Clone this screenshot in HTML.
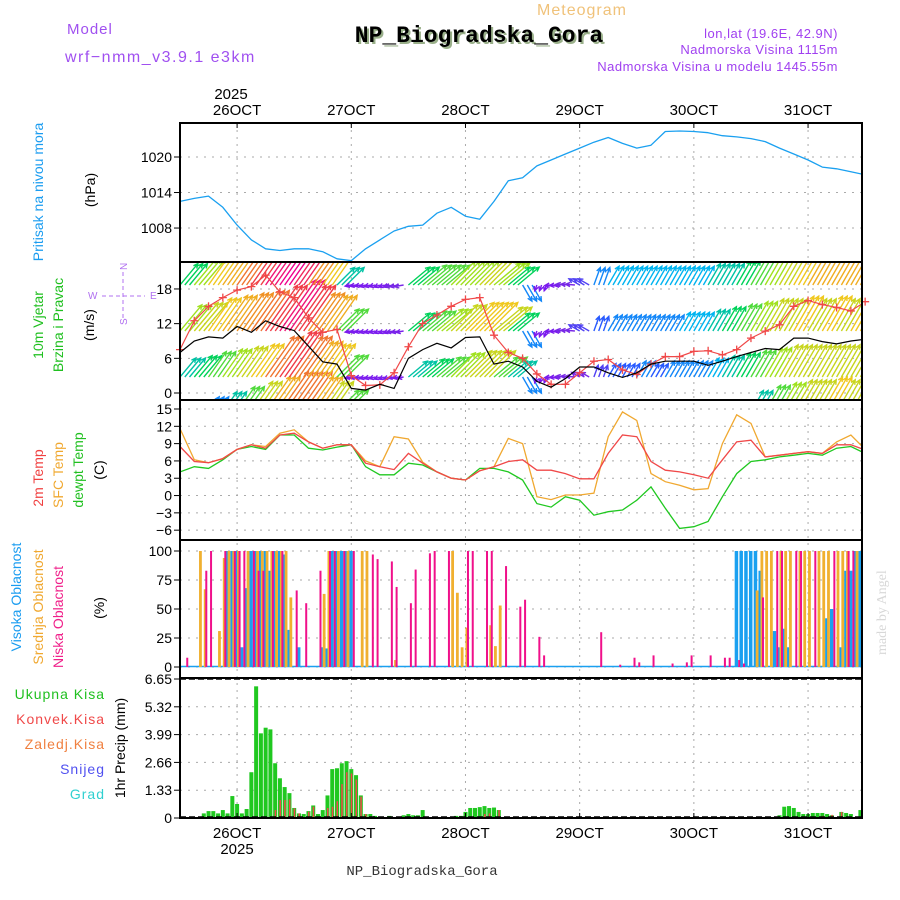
<!DOCTYPE html>
<html><head><meta charset="utf-8"><style>
html,body{margin:0;padding:0;background:#fff;}
svg{display:block;font-family:"Liberation Sans",sans-serif;}
</style></head><body>
<svg id="chart" width="900" height="900" viewBox="0 0 900 900" xmlns="http://www.w3.org/2000/svg">
<defs>
<clipPath id="cpP"><rect x="180" y="123" width="682" height="139"/></clipPath>
<clipPath id="cpW"><rect x="181" y="263" width="680" height="136"/></clipPath>
<clipPath id="cpT"><rect x="180" y="401" width="682" height="138"/></clipPath>
</defs>
<text x="582" y="15" font-size="16" fill="#f0c27a" text-anchor="middle" letter-spacing="1">Meteogram</text>
<text x="67" y="34" font-size="15" fill="#a050f0" letter-spacing="1">Model</text>
<text x="65" y="62" font-size="16" fill="#a050f0" letter-spacing="1.5">wrf−nmm_v3.9.1 e3km</text>
<text x="481" y="44" font-size="23" font-weight="bold" font-family="Liberation Mono, monospace" fill="#9ab08a" text-anchor="middle">NP_Biogradska_Gora</text>
<text x="479" y="42" font-size="23" font-weight="bold" font-family="Liberation Mono, monospace" fill="#000" text-anchor="middle">NP_Biogradska_Gora</text>
<text x="838" y="38" font-size="13" fill="#a040f0" text-anchor="end" letter-spacing="0.5">lon,lat (19.6E, 42.9N)</text>
<text x="838" y="54" font-size="13" fill="#a040f0" text-anchor="end" letter-spacing="0.5">Nadmorska Visina 1115m</text>
<text x="838" y="71" font-size="13" fill="#a040f0" text-anchor="end" letter-spacing="0.5">Nadmorska Visina u modelu 1445.55m</text>
<text x="231" y="99" font-size="15" text-anchor="middle">2025</text>
<text x="237" y="854" font-size="15" text-anchor="middle">2025</text>
<text x="422" y="875" font-size="14" font-family="Liberation Mono, monospace" fill="#333" text-anchor="middle">NP_Biogradska_Gora</text>
<text transform="translate(886,655) rotate(-90)" font-size="14" fill="#d8d8d8" font-family="Liberation Serif, serif">made by Angel</text>

<text transform="translate(43,192) rotate(-90)" font-size="14" fill="#1a9cf0" text-anchor="middle">Pritisak na nivou mora</text>
<text transform="translate(95,190) rotate(-90)" font-size="14" text-anchor="middle">(hPa)</text>
<text transform="translate(43,325) rotate(-90)" font-size="14" fill="#20c020" text-anchor="middle">10m Vjetar</text>
<text transform="translate(63,325) rotate(-90)" font-size="14" fill="#20c020" text-anchor="middle">Brzina i Pravac</text>
<text transform="translate(94,325) rotate(-90)" font-size="14" text-anchor="middle">(m/s)</text>
<g stroke="#b070f0" fill="#b070f0" font-size="10">
<line x1="102" y1="296" x2="145" y2="296" stroke-dasharray="4,3"/>
<line x1="123" y1="272" x2="123" y2="320" stroke-dasharray="4,3"/>
<text x="88" y="299" stroke="none">W</text><text x="150" y="299" stroke="none">E</text>
<text transform="translate(127,270) rotate(-90)" stroke="none">N</text>
<text transform="translate(127,325) rotate(-90)" stroke="none">S</text>
</g>
<text transform="translate(43,478) rotate(-90)" font-size="14" fill="#f04040" text-anchor="middle">2m Temp</text>
<text transform="translate(63,475) rotate(-90)" font-size="14" fill="#f0a830" text-anchor="middle">SFC Temp</text>
<text transform="translate(83,470) rotate(-90)" font-size="14" fill="#20c020" text-anchor="middle">dewpt Temp</text>
<text transform="translate(104,470) rotate(-90)" font-size="14" text-anchor="middle">(C)</text>
<text transform="translate(21,597) rotate(-90)" font-size="14" fill="#1a9cf0" text-anchor="middle">Visoka Oblacnost</text>
<text transform="translate(43,607) rotate(-90)" font-size="14" fill="#f0a830" text-anchor="middle">Srednja Oblacnost</text>
<text transform="translate(63,617) rotate(-90)" font-size="14" fill="#f0208a" text-anchor="middle">Niska Oblacnost</text>
<text transform="translate(104,608) rotate(-90)" font-size="14" text-anchor="middle">(%)</text>
<g font-size="14" text-anchor="end" letter-spacing="1">
<text x="105" y="699" fill="#20c020">Ukupna  Kisa</text>
<text x="105" y="724" fill="#f04848">Konvek.Kisa</text>
<text x="105" y="749" fill="#f08040">Zaledj.Kisa</text>
<text x="105" y="774" fill="#5050f0">Snijeg</text>
<text x="105" y="799" fill="#30d0d0">Grad</text>
</g>
<text transform="translate(125,748) rotate(-90)" font-size="14" text-anchor="middle">1hr Precip (mm)</text>
<g id="grid"></g><g id="marks"></g><g id="frame"></g>
</svg>
<script>
const presVals=[1012.5,1013,1013.4,1011.5,1008.5,1006,1004.5,1004.2,1004.5,1004.5,1004,1002.8,1002.5,1004.5,1006,1007.5,1008.3,1008.5,1010.5,1011.5,1010,1009.5,1012.5,1016,1016.5,1018.5,1019.5,1020.5,1021.5,1022.5,1023.3,1022.3,1021.5,1022,1024.3,1024.4,1024.3,1024.1,1023.6,1023.4,1023.1,1022.6,1021.5,1020.5,1019.5,1018.3,1018,1017.5,1017];
const wind10=[7,9,9.7,9.5,11.5,10.5,12.5,11.5,10.8,8.1,5.4,5,0.8,0.5,1.5,0.8,6,7.5,8.6,7.8,9.6,9.7,5,5.5,4.5,2,1,2.5,4.5,4.5,3.5,2.7,3.5,5,5.5,5.5,5.5,4.8,5.5,6.3,7,7.7,7.5,9.5,9.5,8.9,8.5,9,9.3];
const windUpper=[7.5,12.5,15,16.5,17.8,18.4,20.4,17.5,16.5,13,10.5,11,3,1.3,1.4,3.5,8,12,13.5,15,16.2,16.5,10,7,6,3.3,1.5,1.5,3.5,5.5,5.8,4,3.2,5,6.3,6.3,7.2,7.3,6.6,7.5,9.5,10.7,11.8,15,16,15.3,14.8,14.2,15.8];
const rowA=[0,4,6,8,10,12,14,16,16,14,12,10,0,0,0,0,0,0,0,0,0,0,0,0,0,0,0,0,0,0,0,0,0,0,0,0,0,0,0,0,8,10,11,12,12,13,12,12,12];
const rowB=[8,9,10,11,12,13,16,18,16,14,13,10,2,2,2,2,8,9,10,11,12,12,10,8,6,2,2,3,3,4,5,5,6,5,6,6,6,7,8,9,10,11,12,12,12,12,12,12,12];
const rowC=[11,12,13,14,15,16,18,20,18,15,14,10,2,2,2,2.5,9,10,11,12,13,13,12,9,6,2,2,3,4,5,6,6,6,6,6,7,7,8,9,10,11,12,12,13,12,13,12,13,13];
const rowD=[9,11,13,14,16,18,20,21,19,15,13,8,2,2,2,3,9,10,10,11,11,12,11,9,6,2,2,3,4,6,7,7,7,7,7,7,7,8,8,9,10,11,12,13,14,14,14,14,14];
const windDir=[50,50,55,55,55,55,55,55,55,55,55,45,190,195,200,190,40,40,40,45,45,45,40,40,300,250,185,175,150,70,60,60,60,60,60,60,60,60,60,60,60,60,60,60,60,60,60,60,60];
const temp2m=[8.5,5.9,5.7,6.4,8,8.8,8.2,10.5,10.8,9.3,8.2,8.8,8.8,5.6,5,4.5,7.3,5.6,4.1,3,2.7,4.3,5,5.9,6.2,4.4,4.4,3.8,2.9,2.9,7.3,10.5,10.2,5.9,4.4,4.1,3.6,3,6.2,9.3,9.6,6.7,7,7.3,7.6,7.3,8.8,8.8,7.9];
const tempSfc=[11.6,6.2,5.7,6.4,8,8.8,8.5,10.8,11.4,9.3,8.2,8.8,8.8,6,5,10.2,9.8,5.8,4.1,3,2.7,4.3,5,9.9,9,-0.2,-0.7,0.1,0.1,0.4,10.2,14.5,13,3.8,2.4,1.8,1,1.2,9,14,12.5,6.7,7,7.3,7.6,7.3,9.3,10.5,8];
const tempDew=[4.1,5,4.7,6.2,8,8.5,8,10.5,10.5,8.2,7.9,8.4,8.8,5,3.6,3.6,5.6,5.3,4.1,3,2.7,4.7,4.7,4.1,2.7,-1.4,-2,-0.2,-0.8,-3.4,-2.8,-2.5,-0.8,1.5,-2.2,-5.7,-5.4,-4.5,-0.2,3.8,5.9,6.2,6.7,7,7.3,7,8.2,8.5,7.3];
const highH=[10,11,12,13,14,15,16,17,18,19,20,21,22,23,25,30,31,32,33,34,35,36,117,118,119,120,121,122,125,126,127,128,136,137,139,140,141,142,143];
const highV=[100,100,100,17,68,100,100,100,100,83,100,100,97,32,17,17,16,100,100,100,100,100,100,100,100,100,100,83,31,17,33,17,42,50,17,83,83,100,100];
const midH=[4,5,8,9,10,11,12,14,16,17,18,19,20,21,22,23,30,31,33,35,38,39,45,57,58,59,60,65,66,67,121,122,123,124,126,127,128,130,131,132,134,135,136,138,139,140,142];
const midV=[100,67,31,94,100,100,100,100,100,100,100,100,100,100,100,60,63,100,100,100,100,100,6,100,64,17,34,36,18,53,66,100,100,100,100,100,100,100,100,100,100,100,100,100,100,100,100];
const lowH=[1,5,6,9,11,12,13,15,16,17,19,21,24,26,29,31,32,34,36,40,41,44,45,48,49,52,53,56,60,61,64,65,68,71,72,75,76,88,92,95,96,99,103,106,107,111,114,115,117,118,122,125,126,129,130,133,137,140,141];
const lowV=[8,83,100,100,100,100,100,100,83,83,100,100,66,55,83,100,100,100,100,97,93,91,69,55,84,98,100,100,100,100,100,100,87,52,58,26,10,30,2,8,4,10,3,4,10,10,8,8,6,3,60,100,100,100,100,100,100,100,100];
const rainH=[5,6,7,8,9,10,11,12,13,14,15,16,17,18,19,20,21,22,23,24,25,26,27,28,29,30,31,32,33,34,35,36,37,38,39,40,41,44,47,48,49,50,51,58,59,60,61,62,63,64,65,66,67,126,127,128,129,130,131,132,133,134,135,136,137,139,140,141,143];
const rainV=[0.22,0.33,0.33,0.22,0.38,0.22,1.05,0.67,0.22,0.43,2.19,6.3,4.05,4.32,4.24,2.62,1.9,1.48,1.19,0.48,0.22,0.19,0.33,0.6,0.19,0.38,1.08,2.34,2.38,2.62,2.72,2.34,2.05,1.08,0.19,0.19,0.1,0.1,0.13,0.19,0.13,0.13,0.38,0.1,0.1,0.29,0.48,0.48,0.52,0.57,0.48,0.5,0.38,0.13,0.54,0.57,0.48,0.29,0.19,0.19,0.24,0.24,0.24,0.19,0.13,0.29,0.24,0.19,0.38];
const convH=[20,21,22,23,24,25,27,28,31,32,33,34,35,36,37,38,39,64,65,67,135,137,139];
const convV=[0.38,0.86,0.86,0.89,0.46,0.22,0.3,0.54,0.48,0.54,0.8,1.62,2.19,2.13,1.84,1.02,0.19,0.19,0.22,0.38,0.1,0.15,0.29];
const dayTicks=[12,36,60,84,108,132];
const dayLabels=["26OCT","27OCT","28OCT","29OCT","30OCT","31OCT"];
const presTicks=[1008,1014,1020];
const windTicks=[0,6,12,18];
const tempTicks=[-6,-3,0,3,6,9,12,15];
const cloudTicks=[0,25,50,75,100];
const rainTicks=[0,1.33,2.66,3.99,5.32,6.65];

const NS="http://www.w3.org/2000/svg";
const X=t=>180+t*4.758;
const Yp=p=>157+(1020-p)*5.92;
const Yw=v=>393-v*5.78;
const Yt=T=>409+(15-T)*5.77;
const Yc=c=>667-c*1.16;
const Yr=r=>818-r*20.9;
function mk(tag,attrs,parent){const e=document.createElementNS(NS,tag);for(const k in attrs)e.setAttribute(k,attrs[k]);parent.appendChild(e);return e;}
const grid=document.getElementById('grid'),marks=document.getElementById('marks'),frame=document.getElementById('frame');
const panels=[[123,262],[262,400],[400,540],[540,678],[678,818]];
dayTicks.forEach((d,i)=>{
  const l=mk('line',{x1:X(d),x2:X(d),y1:123,y2:818,stroke:'#aaa','stroke-dasharray':'2,5'},grid);
  
  
  const t1=mk('text',{x:X(d),y:115,'font-size':15,'text-anchor':'middle'},frame);t1.textContent=dayLabels[i];
  
  
  const t2=mk('text',{x:X(d),y:838,'font-size':15,'text-anchor':'middle'},frame);t2.textContent=dayLabels[i];
  
  
  mk('line',{x1:X(d),x2:X(d),y1:123,y2:128,stroke:'#000'},frame);
  mk('line',{x1:X(d),x2:X(d),y1:813,y2:818,stroke:'#000'},frame);
});
function hTicks(ticks,scale,fmt,name){ticks.forEach(v=>{const y=scale(v);
  const g=mk('line',{x1:180,x2:862,y1:y,y2:y,stroke:'#aaa','stroke-dasharray':'2,6'},grid);
  
  
  mk('line',{x1:174,x2:180,y1:y,y2:y,stroke:'#000'},frame);
  const t=mk('text',{x:172,y:y+5,'font-size':14,'text-anchor':'end'},frame);t.textContent=fmt(v);
  
  
});}
hTicks(presTicks,Yp,v=>v,'pressure');
hTicks(windTicks,Yw,v=>v,'wind');
hTicks(tempTicks,Yt,v=>v<0?'−'+(-v):v,'temp');
hTicks(cloudTicks,Yc,v=>v,'cloud');
hTicks(rainTicks,Yr,v=>v?v.toFixed(2):'0','precip');
function path(vals,sx,sy,attrs,name,clip){const d=vals.map((v,i)=>(i?'L':'M')+sx(i).toFixed(1)+','+sy(v).toFixed(1)).join('');
  const p=mk('path',Object.assign({d:d,fill:'none'},attrs),marks);if(clip)p.setAttribute('clip-path',clip);
  
  return p;}
path(presVals,i=>X(i*3),Yp,{stroke:'#1aa0f0','stroke-width':1.3,'stroke-linejoin':'round'},'pressure-line','url(#cpP)');
const wg=mk('g',{'clip-path':'url(#cpW)'},marks);


const stops=[[0,[128,0,255]],[3,[120,40,230]],[5,[40,90,255]],[7,[0,180,240]],[9,[0,210,90]],[11,[160,225,30]],[13,[240,200,30]],[15,[240,145,35]],[18,[240,60,70]],[21,[240,0,140]]];
function col(s){for(let i=1;i<stops.length;i++){if(s<=stops[i][0]){const a=stops[i-1],b=stops[i],f=(s-a[0])/(b[0]-a[0]);return 'rgb('+a[1].map((c,j)=>Math.round(c+(b[1][j]-c)*f)).join(',')+')';}}return 'rgb(240,0,140)';}
[[rowA,412],[rowB,377],[rowC,331],[rowD,285]].forEach(([arr,base])=>{
  arr.forEach((s,i)=>{if(s<=0)return;for(let k=0;k<3;k++){const t=i*3+k;if(t>143)continue;
    const a=windDir[i]*Math.PI/180,L=s*3.1,x0=X(t),x1=x0+L*Math.cos(a),y1=base-L*Math.sin(a),c=col(s);
    const h1=a+Math.PI-0.45,h2=a+Math.PI+0.45;
    const p=mk('path',{d:`M${x0.toFixed(1)},${base}L${x1.toFixed(1)},${y1.toFixed(1)}M${(x1+5*Math.cos(h1)).toFixed(1)},${(y1-5*Math.sin(h1)).toFixed(1)}L${x1.toFixed(1)},${y1.toFixed(1)}L${(x1+5*Math.cos(h2)).toFixed(1)},${(y1-5*Math.sin(h2)).toFixed(1)}`,stroke:c,'stroke-width':1.4,fill:'none'},wg);
    
    
  }});
});
path(windUpper,i=>X(i*3),Yw,{stroke:'#f04848','stroke-width':1.2},'upper-wind-line','url(#cpW)');
windUpper.forEach((v,i)=>{const x=X(i*3),y=Yw(v);
  const c=mk('path',{d:`M${x-4},${y}H${x+4}M${x},${y-4}V${y+4}`,stroke:'#f04848','stroke-width':1.3},marks);
  
  });
path(wind10,i=>X(i*3),Yw,{stroke:'#000','stroke-width':1.2},'wind-10m-line','url(#cpW)');
path(tempDew,i=>X(i*3),Yt,{stroke:'#20c820','stroke-width':1.3},'dewpoint-line','url(#cpT)');
path(tempSfc,i=>X(i*3),Yt,{stroke:'#f0a830','stroke-width':1.3},'sfc-temp-line','url(#cpT)');
path(temp2m,i=>X(i*3),Yt,{stroke:'#f04848','stroke-width':1.3},'temp-2m-line','url(#cpT)');
const cb=mk('line',{x1:181,x2:861,y1:666.5,y2:666.5,stroke:'#1aa0f0','stroke-width':1.5},marks);


function bars(hs,vs,sy,off,w,color,name){hs.forEach((h,i)=>{const y=sy(vs[i]),y0=sy(0);
  const r=mk('rect',{x:X(h)+off,y:y,width:w,height:Math.max(0.5,y0-y),fill:color},marks);
  
  });}
bars(highH,highV,Yc,-2,3.5,'#1aa0f0','high-cloud-bar');
bars(midH,midV,Yc,0,2.8,'#f0b030','mid-cloud-bar');
bars(lowH,lowV,Yc,1.5,2,'#f0108a','low-cloud-bar');
bars(rainH,rainV,Yr,-2,4,'#20c820','total-precip-bar');
bars(convH,convV,Yr,-0.5,1.5,'#f04848','convective-precip-bar');
mk('line',{x1:180,x2:862,y1:679,y2:679,stroke:'#000','stroke-width':1.5,'stroke-dasharray':'6,3'},frame);
mk('line',{x1:180,x2:862,y1:817,y2:817,stroke:'#000','stroke-width':1.5,'stroke-dasharray':'6,3'},frame);
panels.forEach(([a,b])=>{const r=mk('rect',{x:180,y:a,width:682,height:b-a,fill:'none',stroke:'#000','stroke-width':2},frame);
  
  });
</script>
</body></html>
